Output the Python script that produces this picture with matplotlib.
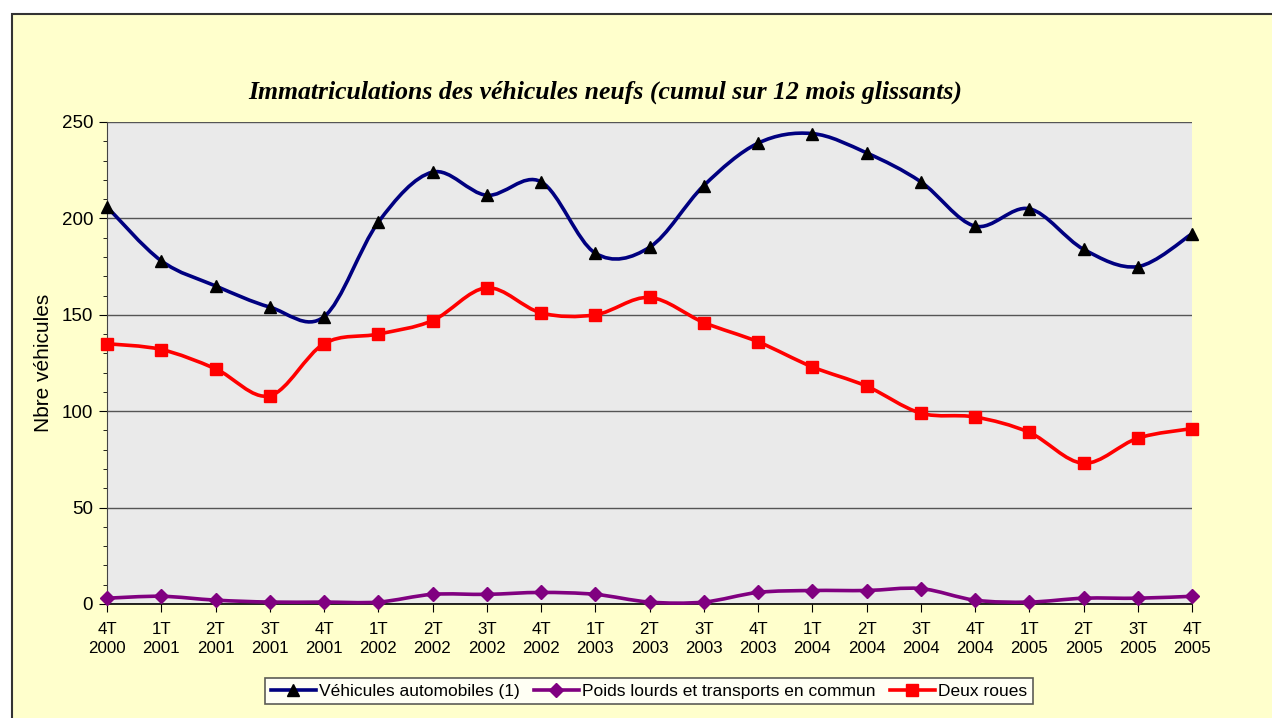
import matplotlib
matplotlib.use("Agg")
import matplotlib.pyplot as plt
import numpy as np
from matplotlib.lines import Line2D
from matplotlib.patches import PathPatch, Rectangle
from matplotlib.path import Path

periods = ["4T\n2000", "1T\n2001", "2T\n2001", "3T\n2001", "4T\n2001",
           "1T\n2002", "2T\n2002", "3T\n2002", "4T\n2002",
           "1T\n2003", "2T\n2003", "3T\n2003", "4T\n2003",
           "1T\n2004", "2T\n2004", "3T\n2004", "4T\n2004",
           "1T\n2005", "2T\n2005", "3T\n2005", "4T\n2005"]

vehicules = [206, 178, 165, 154, 149, 198, 224, 212, 219, 182, 185,
             217, 239, 244, 234, 219, 196, 205, 184, 175, 192]
poids_lourds = [3, 4, 2, 1, 1, 1, 5, 5, 6, 5, 1,
                1, 6, 7, 7, 8, 2, 1, 3, 3, 4]
deux_roues = [135, 132, 122, 108, 135, 140, 147, 164, 151, 150, 159,
              146, 136, 123, 113, 99, 97, 89, 73, 86, 91]

labels = ["Véhicules automobiles (1)",
          "Poids lourds et transports en commun",
          "Deux roues"]


def smooth_path(x, y):
    # Catmull-Rom segments as cubic Bezier curves (Excel-like smoothed line)
    p = np.column_stack([x, y]).astype(float)
    n = len(p)
    verts = [p[0]]
    codes = [Path.MOVETO]
    for i in range(n - 1):
        p0 = p[i - 1] if i > 0 else p[i]
        p3 = p[i + 2] if i + 2 < n else p[i + 1]
        c1 = p[i] + (p[i + 1] - p0) / 6.0
        c2 = p[i + 1] - (p3 - p[i]) / 6.0
        verts += [c1, c2, p[i + 1]]
        codes += [Path.CURVE4] * 3
    return Path(verts, codes)


fig = plt.figure(figsize=(12.72, 7.18), dpi=100)
fig.patch.set_facecolor("white")
fig.patches.append(Rectangle((12 / 1272, -0.05), 1.1, 1 - 14 / 718 + 0.05,
                             transform=fig.transFigure, facecolor="#FFFFCC",
                             edgecolor="#333333", linewidth=1.5, zorder=-5))

ax = fig.add_axes([107 / 1272, 1 - 604 / 718, (1192 - 107) / 1272, (604 - 122) / 718])
ax.set_facecolor("#EAEAEA")

x = np.arange(len(periods))
series = [
    (vehicules, "#000080", "^", "black", 9),
    (poids_lourds, "#800080", "D", "#800080", 7),
    (deux_roues, "#FF0000", "s", "#FF0000", 8.5),
]
handles = []
for (vals, col, mk, mcol, ms), lab in zip(series, labels):
    ax.add_patch(PathPatch(smooth_path(x, vals), facecolor="none", edgecolor=col,
                           linewidth=2.6, zorder=3, clip_on=False))
    ax.plot(x, vals, linestyle="none", marker=mk, markersize=ms, color=mcol,
            markeredgecolor=mcol, zorder=4, clip_on=False)
    handles.append(Line2D([], [], color=col, linewidth=2.6, marker=mk,
                          markersize=ms, markerfacecolor=mcol, markeredgecolor=mcol))

ax.set_xlim(0, len(periods) - 1)
ax.set_ylim(0, 250)
ax.set_xticks(x)
ax.set_xticklabels(periods, fontsize=12.2, family="Liberation Sans", linespacing=1.3)
ax.set_yticks(range(0, 251, 50))
ax.set_yticks(range(0, 251, 10), minor=True)
ax.tick_params(axis="y", which="major", length=6, labelsize=13.5, pad=4)
ax.tick_params(axis="y", which="minor", length=3)
ax.tick_params(axis="x", length=6, pad=7)
for lab in ax.get_yticklabels():
    lab.set_family("Liberation Sans")

ax.grid(True, axis="y", which="major", color="#555555", linewidth=1)
ax.set_axisbelow(True)
for s in ["top", "right"]:
    ax.spines[s].set_visible(False)
ax.spines["left"].set_color("#444444")
ax.spines["bottom"].set_color("black")
ax.spines["bottom"].set_linewidth(1.2)

ax.set_ylabel("Nbre véhicules", fontsize=15, family="Liberation Sans")
ax.yaxis.set_label_coords(-0.050, 0.5)

fig.text(605 / 1272, 1 - 92 / 718,
         "Immatriculations des véhicules neufs (cumul sur 12 mois glissants)",
         ha="center", va="center", fontsize=18.5, fontweight="bold", style="italic",
         family="Liberation Serif")

leg = fig.legend(handles, labels, loc="center", bbox_to_anchor=(649 / 1272, 1 - 691 / 718),
                 ncol=3, frameon=True, fancybox=False,
                 prop={"family": "Liberation Sans", "size": 12.5},
                 handlelength=2.6, handletextpad=0.2, columnspacing=0.8,
                 borderpad=0.3)
leg.get_frame().set_edgecolor("#333333")
leg.get_frame().set_facecolor("white")
leg.get_frame().set_linewidth(1.2)

fig.savefig("out.png", dpi=100, facecolor=fig.get_facecolor())
